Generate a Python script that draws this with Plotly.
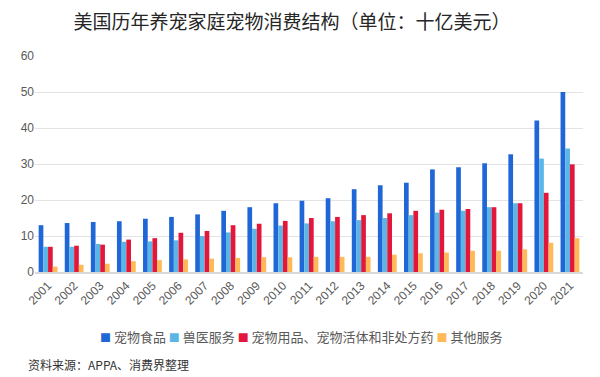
import plotly.graph_objects as go

years = [str(y) for y in range(2001, 2022)]
food = [13.0, 13.6, 13.9, 14.1, 14.8, 15.3, 16.0, 17.0, 18.0, 19.1, 19.8, 20.5, 23.0, 24.1, 24.8, 28.5, 29.1, 30.2, 32.7, 42.1, 50.0]
vet = [7.0, 7.0, 7.8, 8.4, 8.5, 8.8, 10.0, 11.0, 12.0, 12.9, 13.5, 14.1, 14.4, 15.0, 15.8, 16.5, 17.0, 18.0, 19.1, 31.5, 34.3]
supplies = [7.0, 7.3, 7.6, 9.0, 9.4, 10.9, 11.4, 13.0, 13.4, 14.2, 15.0, 15.3, 15.8, 16.3, 17.0, 17.3, 17.5, 18.0, 19.1, 22.0, 29.9]
other = [1.5, 2.0, 2.3, 3.0, 3.3, 3.5, 3.7, 3.9, 4.1, 4.1, 4.2, 4.2, 4.2, 4.8, 5.2, 5.4, 5.9, 5.9, 6.3, 8.1, 9.4]

names = ["宠物食品", "兽医服务", "宠物用品、宠物活体和非处方药", "其他服务"]
colors = ["#1f66d6", "#5bb6e6", "#e2173b", "#ffb957"]
series = [food, vet, supplies, other]

font_family = "Arial, Liberation Sans, Noto Sans CJK SC, sans-serif"
cjk = "Noto Sans CJK SC, sans-serif"
W, H = 600, 377
L, R, T, B = 35, 17, 56, 105
ph = H - T - B
pw = W - L - R

fig = go.Figure()
for n, c, s in zip(names, colors, series):
    fig.add_trace(go.Bar(x=years, y=s, name=n, showlegend=False,
                         marker=dict(color=c, line=dict(width=0))))

fig.update_layout(
    width=W, height=H,
    barmode="group", bargap=0.28, bargroupgap=0,
    margin=dict(l=L, r=R, t=T, b=B),
    paper_bgcolor="white", plot_bgcolor="white",
    font=dict(family=font_family, color="#595959", size=12),
    title=dict(text="美国历年养宠家庭宠物消费结构（单位：十亿美元）",
               x=292/W, xanchor="center", y=1-22/H, yanchor="middle",
               font=dict(size=19, color="#262626", family=cjk)),
    xaxis=dict(tickangle=-45, showline=True, linecolor="#d9d9d9", linewidth=2,
               ticks="", tickfont=dict(size=12)),
    yaxis=dict(range=[0, 60], dtick=10, showgrid=True, gridcolor="#e3e3e3", gridwidth=1,
               zeroline=False, ticks="", tickfont=dict(size=12)),
)

# legend built from annotations (compact square + label)
legend_text = "&nbsp;".join(
    f"<span style='color:{c};font-size:11px'>■</span> {n}" for n, c in zip(names, colors)
)
fig.add_annotation(text=legend_text, xref="paper", yref="paper",
                   x=(301-L)/pw, xanchor="center", y=(H-B-336)/ph, yanchor="middle",
                   showarrow=False, font=dict(size=13, color="#595959", family=cjk))

fig.add_annotation(text="资料来源：APPA、消费界整理", xref="paper", yref="paper",
                   x=(26-L)/pw, xanchor="left", y=(H-B-364)/ph, yanchor="middle",
                   showarrow=False, font=dict(size=12, color="#333333", family=cjk))

fig.write_html("out.html", config={"displayModeBar": False},
               post_script="document.body.style.margin='0';document.body.style.overflow='hidden';")
